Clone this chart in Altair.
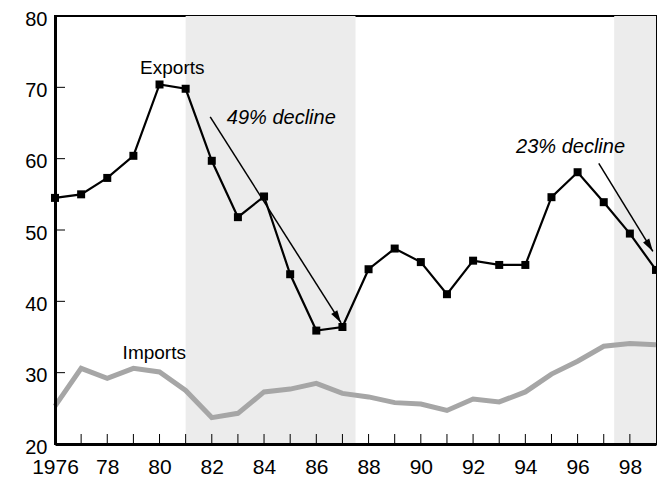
import altair as alt
import pandas as pd

years = list(range(1976, 2000))
exports = [54.5, 55.0, 57.3, 60.4, 70.4, 69.8, 59.7, 51.8, 54.7, 43.8, 35.9, 36.4,
           44.5, 47.4, 45.5, 41.0, 45.7, 45.1, 45.1, 54.6, 58.1, 53.9, 49.5, 44.4]
imports = [25.3, 30.6, 29.2, 30.6, 30.1, 27.5, 23.7, 24.3, 27.3, 27.7, 28.5, 27.1,
           26.6, 25.8, 25.6, 24.7, 26.3, 25.9, 27.3, 29.8, 31.6, 33.7, 34.1, 33.9]

shade_start = [1981.0, 1997.4]
shade_end = [1987.5, 1999.0]

arrow_x = [1981.94, 1996.81]
arrow_y = [65.85, 59.33]
arrow_x2 = [1986.95, 1998.88]
arrow_y2 = [36.98, 47.0]
arrow_angle = [147.5, 148.4]

label_text = ["Exports", "Imports"]
label_x = [1980.49, 1979.8]
label_y = [72.7, 32.8]

note_text = ["49% decline", "23% decline"]
note_x = [1984.66, 1995.73]
note_y = [65.7, 61.7]

x_tick_years = list(range(1977, 1999))
y_tick_values = [30, 40, 50, 60, 70]

W, H = 601, 428
FONT = "Liberation Sans"

df = pd.DataFrame({"year": years, "exports": exports, "imports": imports})
shade_df = pd.DataFrame({"start": shade_start, "end": shade_end})
arrow_df = pd.DataFrame({"x": arrow_x, "y": arrow_y, "x2": arrow_x2, "y2": arrow_y2, "angle": arrow_angle})
label_df = pd.DataFrame({"t": label_text, "x": label_x, "y": label_y})
note_df = pd.DataFrame({"t": note_text, "x": note_x, "y": note_y})
xt_df = pd.DataFrame({"year": x_tick_years})
yt_df = pd.DataFrame({"v": y_tick_values})

xscale = alt.Scale(domain=[1976, 1999], nice=False, zero=False)
yscale = alt.Scale(domain=[20, 80], nice=False, zero=False)

xaxis = alt.Axis(
    values=list(range(1976, 1999, 2)),
    labelExpr="datum.value == 1976 ? '1976' : substring(toString(datum.value), 2, 4)",
    ticks=False, grid=False, title=None, labelFontSize=21, labelPadding=12,
    domainColor="black", domainWidth=3, labelColor="black", labelFont=FONT,
    labelFlush=False, labelOverlap=False, zindex=1,
)
yaxis = alt.Axis(
    values=[20, 30, 40, 50, 60, 70, 80], ticks=False, grid=False, title=None,
    labelFontSize=20, labelPadding=8, labelOffset=3, domainColor="black", domainWidth=3,
    labelColor="black", labelFont=FONT, labelFlush=False, zindex=1,
)

shade = alt.Chart(shade_df).mark_rect(color="#ececec").encode(
    x=alt.X("start:Q", scale=xscale, axis=xaxis),
    x2="end:Q",
    y=alt.value(0), y2=alt.value(H),
)

xticks = alt.Chart(xt_df).mark_rule(color="black", strokeWidth=1).encode(
    x=alt.X("year:Q", scale=xscale), y=alt.value(H), y2=alt.value(H - 10)
)
yticks = alt.Chart(yt_df).mark_rule(color="black", strokeWidth=1).encode(
    y=alt.Y("v:Q", scale=yscale, axis=yaxis), x=alt.value(0), x2=alt.value(10)
)

imp = alt.Chart(df).mark_line(color="#a6a6a6", strokeWidth=5).encode(
    x=alt.X("year:Q", scale=xscale), y=alt.Y("imports:Q", scale=yscale)
)
exp_line = alt.Chart(df).mark_line(color="black", strokeWidth=2.2).encode(
    x=alt.X("year:Q", scale=xscale), y=alt.Y("exports:Q", scale=yscale)
)
exp_pts = alt.Chart(df).mark_square(color="black", size=64, opacity=1).encode(
    x=alt.X("year:Q", scale=xscale), y=alt.Y("exports:Q", scale=yscale)
)

arrow_lines = alt.Chart(arrow_df).mark_rule(color="black", strokeWidth=1.5).encode(
    x=alt.X("x:Q", scale=xscale), y=alt.Y("y:Q", scale=yscale), x2="x2:Q", y2="y2:Q"
)
arrow_heads = alt.Chart(arrow_df).mark_point(
    shape="M0,0 L0.45,1.6 L-0.45,1.6 Z", filled=True, color="black", size=256, opacity=1
).encode(
    x=alt.X("x2:Q", scale=xscale), y=alt.Y("y2:Q", scale=yscale),
    angle=alt.Angle("angle:Q", scale=None),
)

labels = alt.Chart(label_df).mark_text(font=FONT, fontSize=19, color="black").encode(
    x=alt.X("x:Q", scale=xscale), y=alt.Y("y:Q", scale=yscale), text="t:N"
)
notes = alt.Chart(note_df).mark_text(font=FONT, fontSize=20, fontStyle="italic", color="black").encode(
    x=alt.X("x:Q", scale=xscale), y=alt.Y("y:Q", scale=yscale), text="t:N"
)

chart = alt.layer(
    shade, xticks, yticks, imp, exp_line, exp_pts, arrow_lines, arrow_heads, labels, notes
).properties(
    width=W, height=H,
    padding={"left": 47, "top": 8, "right": 1, "bottom": 34},
    autosize=alt.AutoSizeParams(type="none"),
).configure_view(stroke="black", strokeWidth=2)

chart.save("out.html", embed_options={"renderer": "svg", "actions": False})
